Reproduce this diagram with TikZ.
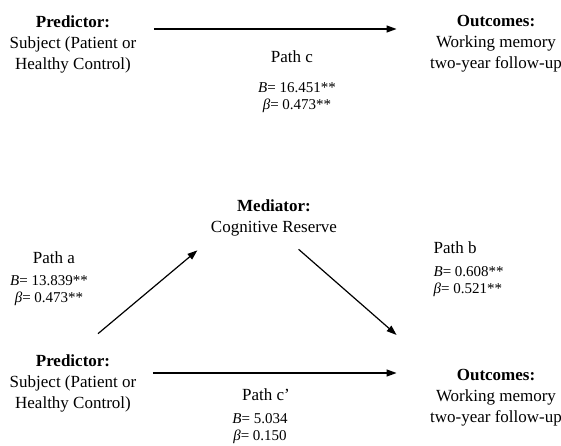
\documentclass[tikz,border=0pt]{standalone}
\usepackage{fontspec}
\setmainfont{Liberation Serif}
\usetikzlibrary{arrows.meta}
\tikzset{
	block/.style={font=\fontsize{17}{21}\selectfont,align=center,inner sep=0pt},
	coef/.style={font=\fontsize{15}{17}\selectfont,align=center,inner sep=0pt},
}
\begin{document}
\begin{tikzpicture}[>={Triangle[length=10pt,width=7pt]},line join=round,x=1pt,y=1pt,line width=1.2pt]
		\useasboundingbox (0,0) rectangle (561,445);
		% total effect
		\node[block] (predT) at (73,401) {\textbf{Predictor:}\\Subject (Patient or\\Healthy Control)};
		\node[block] (outT) at (496,401) {\textbf{Outcomes:}\\Working memory\\two-year follow-up};
		\node[block] (pathc) at (292,388) {Path c};
		\node[coef] (coefc) at (297,347) {\textit{B}= 16.451**\\\textit{β}= 0.473**};
		\draw[->] ([shift={(17,15)}]predT.east)--([shift={(-33,15)}]outT.west);
		% mediation
		\node[block] (med) at (274,227) {\textbf{Mediator:}\\Cognitive Reserve};
		\node[block] (predB) at (73,62) {\textbf{Predictor:}\\Subject (Patient or\\Healthy Control)};
		\node[block] (outB) at (496,47) {\textbf{Outcomes:}\\Working memory\\two-year follow-up};
		\node[block] (patha) at (54,187) {Path a};
		\node[coef] (coefa) at (49,154) {\textit{B}= 13.839**\\\textit{β}= 0.473**};
		\node[block,anchor=west] (pathb) at (433,197) {Path b};
		\node[coef,anchor=west,align=left] (coefb) at (433,163) {\textit{B}= 0.608**\\\textit{β}= 0.521**};
		\node[block] (pathcp) at (266,50) {Path c’};
		\node[coef] (coefcp) at (260,16) {\textit{B}= 5.034\\\textit{β}= 0.150};
		\draw[->] ([shift={(25,20)}]predB.north)--([shift={(-13,-13.5)}]med.south west);
		\draw[->] ([shift={(-39,-12.5)}]med.south east)--([shift={(-33,34)}]outB.north west);
		\draw[->] ([shift={(16,10)}]predB.east)--([shift={(-33,25)}]outB.west);
		\end{tikzpicture}
\end{document}
